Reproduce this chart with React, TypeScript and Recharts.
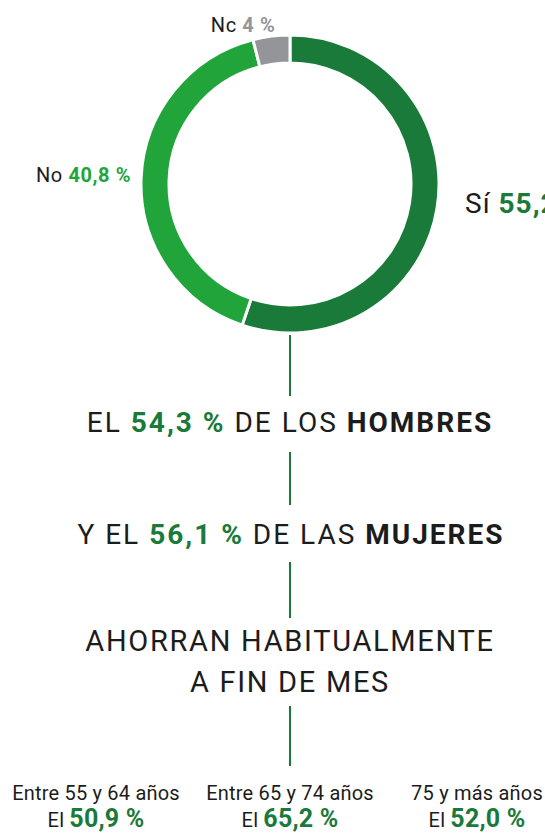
import { PieChart, Pie, Cell } from "recharts";

// respuesta "¿Ahorra habitualmente a fin de mes?"
const categories = ["Sí", "No", "Nc"];
const values = [55.2, 40.8, 4];
const valueLabels = ["55,2 %", "40,8 %", "4 %"];

const menValue = "54,3 %";
const womenValue = "56,1 %";

const ageGroups = ["Entre 55 y 64 años", "Entre 65 y 74 años", "75 y más años"];
const ageValues = ["50,9 %", "65,2 %", "52,0 %"];

const DARK = "#1a7a39";
const COLORS = [DARK, "#21a53b", "#939598"];
const TEXT = "#1c1c1c";
const FONT = "Roboto, 'DejaVu Sans', sans-serif";

const data = categories.map((name, i) => ({ name, value: values[i], label: valueLabels[i] }));

// per-slice label placement tweaks
const LABEL_POS = [
  { dx: 28, dy: -5, anchor: "start", size: 28, ls: 1 },
  { dx: -10, dy: -3, anchor: "end", size: 20, ls: 0.6 },
  { dx: 4, dy: -11, anchor: "end", size: 20, ls: 0.6 },
];

const RAD = Math.PI / 180;

function renderLabel(props: any) {
  const { cx, cy, midAngle, outerRadius, index } = props;
  const p = LABEL_POS[index];
  const x = cx + outerRadius * Math.cos(-midAngle * RAD) + p.dx;
  const y = cy + outerRadius * Math.sin(-midAngle * RAD) + p.dy;
  return (
    <text
      x={x}
      y={y}
      textAnchor={p.anchor}
      dominantBaseline="central"
      fontFamily={FONT}
      fontSize={p.size}
      letterSpacing={p.ls}
      fontWeight={400}
      stroke="none"
    >
      <tspan fill={TEXT} fontWeight={400}>{data[index].name} </tspan>
      <tspan fill={COLORS[index]} fontWeight={700}>
        {data[index].label}
      </tspan>
    </text>
  );
}

const line = (top: number, bottom: number) => (
  <div
    style={{
      position: "absolute",
      left: 289,
      top,
      width: 2,
      height: bottom - top,
      background: DARK,
    }}
  />
);

const centered = (cx: number, top: number, size: number, spacing: number, children: any) => (
  <div
    style={{
      position: "absolute",
      left: cx,
      top,
      transform: "translateX(-50%)",
      whiteSpace: "nowrap",
      fontSize: size,
      lineHeight: `${size + 6}px`,
      letterSpacing: spacing,
      color: TEXT,
      textAlign: "center",
    }}
  >
    {children}
  </div>
);

const green = (s: string) => <span style={{ color: DARK, fontWeight: 700 }}>{s}</span>;

export default function App() {
  return (
    <div
      style={{
        position: "absolute",
        left: 0,
        top: 0,
        width: 545,
        height: 834,
        overflow: "hidden",
        background: "#fff",
        fontFamily: FONT,
      }}
    >
      <PieChart width={545} height={360} margin={{ top: 0, right: 0, bottom: 0, left: 0 }}>
        <Pie
          data={data}
          dataKey="value"
          cx={290}
          cy={184}
          innerRadius={121}
          outerRadius={149}
          startAngle={90}
          endAngle={-270}
          stroke="#fff"
          strokeWidth={3}
          label={renderLabel}
          labelLine={false}
          isAnimationActive={false}
        >
          {data.map((d, i) => (
            <Cell key={d.name} fill={COLORS[i]} />
          ))}
        </Pie>
      </PieChart>

      {line(335, 396)}
      {centered(290, 406, 28, 2, <>EL {green(menValue)} DE LOS <b style={{ fontWeight: 700 }}>HOMBRES</b></>)}
      {line(452, 505)}
      {centered(291, 518, 28, 2, <>Y EL {green(womenValue)} DE LAS <b style={{ fontWeight: 700 }}>MUJERES</b></>)}
      {line(562, 618)}
      {centered(290, 624, 29, 1.7, "AHORRAN HABITUALMENTE")}
      {centered(290, 665, 29, 1.7, "A FIN DE MES")}
      {line(706, 766)}

      {ageGroups.map((g, i) => (
        <div key={g}>
          {centered([96, 290, 477][i], 780, 20, 0.2, g)}
          {centered([96, 290, 477][i], 806, 20, 0.2, <>El <span style={{ color: DARK, fontWeight: 700, fontSize: 25 }}>{ageValues[i]}</span></>)}
        </div>
      ))}
    </div>
  );
}
